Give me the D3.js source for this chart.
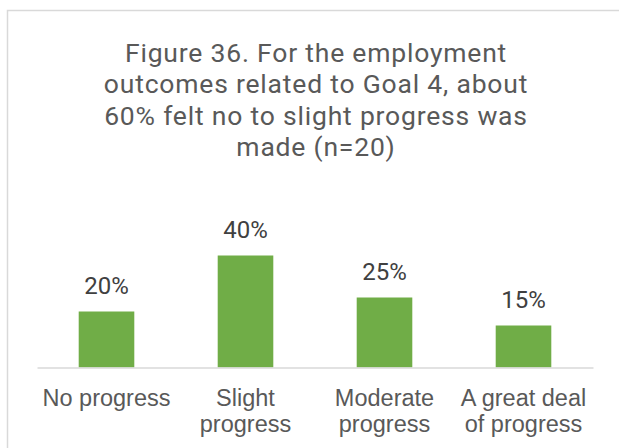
<!DOCTYPE html>
<html>
<head>
<meta charset="utf-8">
<script src="https://cdn.jsdelivr.net/npm/d3@7"></script>
<style>
  html, body { margin: 0; padding: 0; background: #ffffff; }
  svg { display: block; }
</style>
</head>
<body>
<svg id="chart" width="619" height="448"></svg>
<script>
// Survey responses: perceived progress on Goal 4 employment outcomes
const categories = ["No progress", "Slight progress", "Moderate progress", "A great deal of progress"];
const categoryLines = [["No progress"], ["Slight", "progress"], ["Moderate", "progress"], ["A great deal", "of progress"]];
const shares = [0.20, 0.40, 0.25, 0.15];
const titleLines = [
  "Figure 36. For the employment",
  "outcomes related to Goal 4, about",
  "60% felt no to slight progress was",
  "made (n=20)"
];

const svg = d3.select("#chart");

// chart frame (extends past the right and bottom edges)
svg.append("rect")
  .attr("x", 7.5).attr("y", 10.5)
  .attr("width", 640).attr("height", 460)
  .attr("fill", "#ffffff")
  .attr("stroke", "#d9d9d9")
  .attr("stroke-width", 1.5);

// title, one text per line
svg.append("g")
  .selectAll("text")
  .data(titleLines)
  .join("text")
  .attr("x", 316)
  .attr("y", (d, i) => 61.5 + i * 31.5)
  .attr("text-anchor", "middle")
  .attr("fill", "#595959")
  .style("font-family", "Roboto, 'Open Sans', sans-serif")
  .style("font-size", "26.5px")
  .style("letter-spacing", "0.8px")
  .text(d => d);

const x = d3.scaleBand()
  .domain(categories)
  .range([37, 593])
  .paddingInner(0.6)
  .paddingOuter(0.3);

const y = d3.scaleLinear()
  .domain([0, 0.5])
  .range([367.5, 227.5]);

// bars
svg.append("g")
  .selectAll("rect")
  .data(categories)
  .join("rect")
  .attr("x", d => x(d))
  .attr("width", x.bandwidth())
  .attr("y", (d, i) => y(shares[i]))
  .attr("height", (d, i) => y(0) - y(shares[i]))
  .attr("fill", "#70ad47");

// category axis: baseline and wrapped labels
const xAxis = svg.append("g")
  .attr("transform", `translate(0,${y(0)})`)
  .call(d3.axisBottom(x).tickSize(0).tickFormat(""));
xAxis.select(".domain")
  .attr("stroke", "#d9d9d9")
  .attr("stroke-width", 1.5);

xAxis.selectAll(".tick text").remove();
xAxis.selectAll(".tick").each(function(d, i) {
  const t = d3.select(this).append("text")
    .attr("text-anchor", "middle")
    .attr("fill", "#595959")
    .style("font-family", "'Liberation Sans', Arial, sans-serif")
    .style("font-size", "23.5px");
  categoryLines[i].forEach((line, j) => {
    t.append("tspan").attr("x", 0).attr("y", 38 + j * 26).text(line);
  });
});

// value labels
const fmt = d3.format(".0%");
svg.append("g")
  .selectAll("text")
  .data(categories)
  .join("text")
  .attr("x", d => x(d) + x.bandwidth() / 2)
  .attr("y", (d, i) => y(shares[i]) - 18)
  .attr("text-anchor", "middle")
  .attr("fill", "#404040")
  .style("font-family", "Roboto, 'Noto Sans', sans-serif")
  .style("font-size", "24px")
  .text((d, i) => fmt(shares[i]));
</script>
</body>
</html>
